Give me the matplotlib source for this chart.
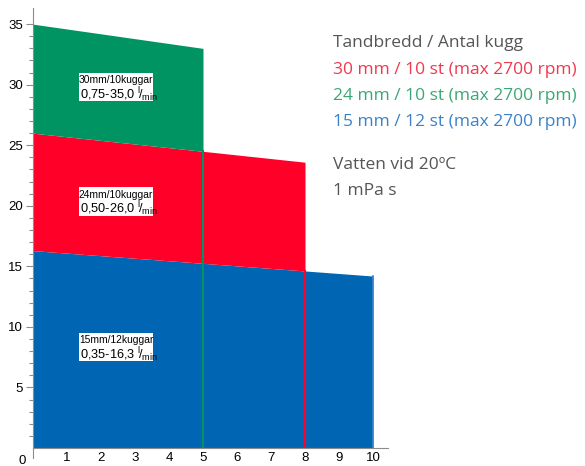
import matplotlib
matplotlib.use("Agg")
import matplotlib.pyplot as plt
from matplotlib.patches import Rectangle

plt.rcParams['font.family'] = 'Liberation Sans'
plt.rcParams['mathtext.fontset'] = 'custom'
plt.rcParams['mathtext.rm'] = 'Liberation Sans'
plt.rcParams['mathtext.it'] = 'Liberation Sans'

# top edge of each area: value at x=0 and at the right end
blue_x = [0, 10]
blue_top = [16.3, 14.2]
red_x = [0, 8]
red_top = [26.0, 23.6]
green_x = [0, 5]
green_top = [35.0, 33.0]

box_names = ['30mm/10kuggar', '24mm/10kuggar', '15mm/12kuggar']
box_ranges = ['0,75-35,0', '0,50-26,0', '0,35-16,3']

legend_lines = ['Tandbredd / Antal kugg',
                '30 mm / 10 st (max 2700 rpm)',
                '24 mm / 10 st (max 2700 rpm)',
                '15 mm / 12 st (max 2700 rpm)',
                'Vatten vid 20ºC',
                '1 mPa s']

c_blue = '#0066b3'
c_red = '#ff0029'
c_green = '#009463'


def line_at(xs, ys, x):
    return ys[0] + (ys[1] - ys[0]) * (x - xs[0]) / (xs[1] - xs[0])


W, H = 585, 466
fig = plt.figure(figsize=(W / 100, H / 100), dpi=100)
ax = fig.add_axes([33 / W, 18 / H, 355 / W, 440 / H])
ax.set_xlim(0, 355 / 34)
ax.set_ylim(0, 440 / 12.11)

# blue area (bottom)
ax.fill_between(blue_x, [0, 0], blue_top, color=c_blue, lw=0)
# red area sits on blue
rx = [red_x[0], red_x[1]]
red_bottom = [line_at(blue_x, blue_top, x) for x in rx]
ax.fill_between(rx, red_bottom, red_top, color=c_red, lw=0)
# green area sits on red
gx = [green_x[0], green_x[1]]
green_bottom = [line_at(red_x, red_top, x) for x in gx]
ax.fill_between(gx, green_bottom, green_top, color=c_green, lw=0)

# vertical edge lines
ax.plot([green_x[1], green_x[1]], [0, line_at(red_x, red_top, green_x[1])], color=c_green, lw=1.5)
ax.plot([red_x[1], red_x[1]], [0, line_at(blue_x, blue_top, red_x[1])], color=c_red, lw=1.5)
ax.plot([blue_x[1], blue_x[1]], [0, blue_top[1]], color='#3a85d0', lw=1.2)

# label boxes
box_y = [(28.65, 30.97), (19.16, 21.55), (7.18, 9.5)]
for (y0, y1), name, rng in zip(box_y, box_names, box_ranges):
    ax.add_patch(Rectangle((1.35, y0), 2.18, y1 - y0, facecolor='white', edgecolor='none', zorder=3))
    ym = (y0 + y1) / 2
    ax.text(2.44, ym + 0.55, name, fontsize=7.4, ha='center', va='center', zorder=4)
    ax.text(1.38, ym - 0.6, rng + r' $^{\mathrm{l}}\!/_{\mathrm{min}}$', fontsize=9.2,
            ha='left', va='center', zorder=4)

# axes styling
for s in ['top', 'right']:
    ax.spines[s].set_visible(False)
ax.spines['left'].set_color('#8c8c8c')
ax.spines['bottom'].set_color('#8c8c8c')
ax.plot([0, 0], [0, -0.85], color='#8c8c8c', lw=0.8, clip_on=False)

ax.set_yticks([5, 10, 15, 20, 25, 30, 35])
ax.set_yticks(range(1, 36), minor=True)
ax.tick_params(axis='y', which='major', length=5, width=0.8, color='#8c8c8c', labelsize=9.5, pad=2)
ax.tick_params(axis='y', which='minor', length=3, width=0.8, color='#8c8c8c')
ax.set_xticks(range(1, 11))
ax.tick_params(axis='x', length=0, labelsize=9.5, pad=3)
ax.annotate('0', xy=(0, 0), xytext=(-11, -13), textcoords='offset pixels',
            ha='center', va='center', fontsize=9.5, annotation_clip=False)

# side text
colors = ['#555555', '#f0384f', '#3aa876', '#3a82c8', '#555555', '#555555']
ys = [43, 70, 96, 122, 165, 191]
for t, c, y in zip(legend_lines, colors, ys):
    fig.text(333 / W, 1 - y / H, t, color=c, fontsize=12.5, family='Open Sans', va='center', ha='left')

fig.savefig('out.png', dpi=100)
